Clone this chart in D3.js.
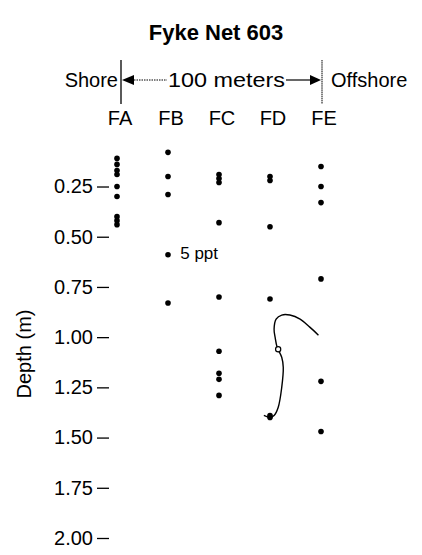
<!DOCTYPE html>
<html>
<head>
<meta charset="utf-8">
<script src="https://cdn.jsdelivr.net/npm/d3@7"></script>
<style>
  body { margin: 0; background: #fff; }
  svg { font-family: "Liberation Sans", Arial, sans-serif; }
</style>
</head>
<body>
<svg id="chart" width="422" height="555"></svg>
<script>
// stations along the transect
var columns = ["FA", "FB", "FC", "FD", "FE"];

// depths (m) of each sample, per station
var depthFA = [0.11, 0.14, 0.17, 0.19, 0.25, 0.30, 0.40, 0.42, 0.44];
var depthFB = [0.08, 0.20, 0.29, 0.59, 0.83];
var depthFC = [0.19, 0.21, 0.23, 0.43, 0.80, 1.07, 1.18, 1.21, 1.29];
var depthFD = [0.20, 0.22, 0.45, 0.81, 1.39, 1.40];
var depthFE = [0.15, 0.25, 0.33, 0.71, 1.22, 1.47];

// 5 ppt isohaline (x in station units, FA = 0)
var isoX = [3.95, 3.78, 3.59, 3.39, 3.23, 3.12, 3.08, 3.10, 3.14, 3.23, 3.26, 3.23, 3.16, 3.08, 3.00, 2.88];
var isoDepth = [0.99, 0.95, 0.91, 0.89, 0.89, 0.91, 0.96, 1.00, 1.05, 1.10, 1.15, 1.25, 1.35, 1.39, 1.40, 1.39];
var openPoint = [3.16, 1.06];

var yTicks = [0.25, 0.50, 0.75, 1.00, 1.25, 1.50, 1.75, 2.00];

var svg = d3.select("#chart");

var x = d3.scaleLinear().domain([0, 4]).range([117, 321]);
var y = d3.scaleLinear().domain([0, 2]).range([136.3, 538]);

var fs = "20px";

// title
svg.append("text")
  .attr("x", 216).attr("y", 40)
  .attr("text-anchor", "middle")
  .style("font-size", "22px").style("font-weight", "bold")
  .text("Fyke Net 603");

// header: shore / offshore arrows
var hy = 80;
var xL = x(0) + 4, xR = x(4) + 1;
svg.append("line").attr("x1", xL).attr("x2", xL).attr("y1", 60).attr("y2", 104).attr("stroke", "#000").attr("stroke-width", 1.3);
svg.append("line").attr("x1", xR).attr("x2", xR).attr("y1", 60).attr("y2", 104).attr("stroke", "#000").attr("stroke-width", 1).attr("stroke-dasharray", "1.5,0.6");
svg.append("path").attr("d", "M" + (xL + 1) + "," + hy + "L" + (xL + 13) + "," + (hy - 5) + "L" + (xL + 13) + "," + (hy + 5) + "Z");
svg.append("line").attr("x1", xL + 13).attr("x2", 167).attr("y1", hy).attr("y2", hy).attr("stroke", "#000").attr("stroke-width", 1).attr("stroke-dasharray", "1.5,1");
svg.append("path").attr("d", "M" + (xR - 1) + "," + hy + "L" + (xR - 12) + "," + (hy - 5) + "L" + (xR - 12) + "," + (hy + 5) + "Z");
svg.append("line").attr("x1", 286).attr("x2", xR - 12).attr("y1", hy).attr("y2", hy).attr("stroke", "#000").attr("stroke-width", 1.2);
svg.append("text").attr("x", xL - 3).attr("y", hy + 7).attr("text-anchor", "end").style("font-size", fs).text("Shore");
svg.append("text").attr("x", 331).attr("y", hy + 7).style("font-size", fs).text("Offshore");
svg.append("text").attr("x", 168).attr("y", hy + 7).attr("textLength", 117).attr("lengthAdjust", "spacingAndGlyphs")
  .style("font-size", fs).text("100 meters");

// station labels
svg.selectAll(".col")
  .data(columns)
  .enter().append("text")
  .attr("class", "col")
  .attr("x", (d, i) => x(i) + 3)
  .attr("y", 125)
  .attr("text-anchor", "middle")
  .style("font-size", fs)
  .text(d => d);

// y axis
var yAxis = d3.axisLeft(y)
  .tickValues(yTicks)
  .tickFormat(d3.format(".2f"))
  .tickSize(12)
  .tickPadding(4);
var ga = svg.append("g").attr("transform", "translate(109,0)").call(yAxis);
ga.select(".domain").remove();
ga.selectAll("text").style("font-size", fs).style("font-family", "Liberation Sans, Arial, sans-serif");
ga.selectAll("line").attr("stroke-width", 1.3);

svg.append("text")
  .attr("transform", "translate(31,354)rotate(-90)")
  .attr("text-anchor", "middle")
  .style("font-size", fs)
  .text("Depth (m)");

// sample points
var samples = [depthFA, depthFB, depthFC, depthFD, depthFE];
samples.forEach((depths, i) => {
  svg.selectAll(".pt" + i)
    .data(depths)
    .enter().append("circle")
    .attr("class", "pt" + i)
    .attr("cx", x(i))
    .attr("cy", d => y(d))
    .attr("r", 2.8)
    .attr("fill", "#000");
});

// isohaline
var line = d3.line()
  .x(d => x(d[0]))
  .y(d => y(d[1]))
  .curve(d3.curveCatmullRom);
svg.append("path")
  .datum(d3.zip(isoX, isoDepth))
  .attr("d", line)
  .attr("fill", "none")
  .attr("stroke", "#000")
  .attr("stroke-width", 1.4);

svg.append("circle")
  .attr("cx", x(openPoint[0]))
  .attr("cy", y(openPoint[1]))
  .attr("r", 2.6)
  .attr("fill", "#fff")
  .attr("stroke", "#000")
  .attr("stroke-width", 1.2);

svg.append("text")
  .attr("x", x(1.24))
  .attr("y", y(0.585) + 5)
  .style("font-size", "17px")
  .text("5 ppt");
</script>
</body>
</html>
